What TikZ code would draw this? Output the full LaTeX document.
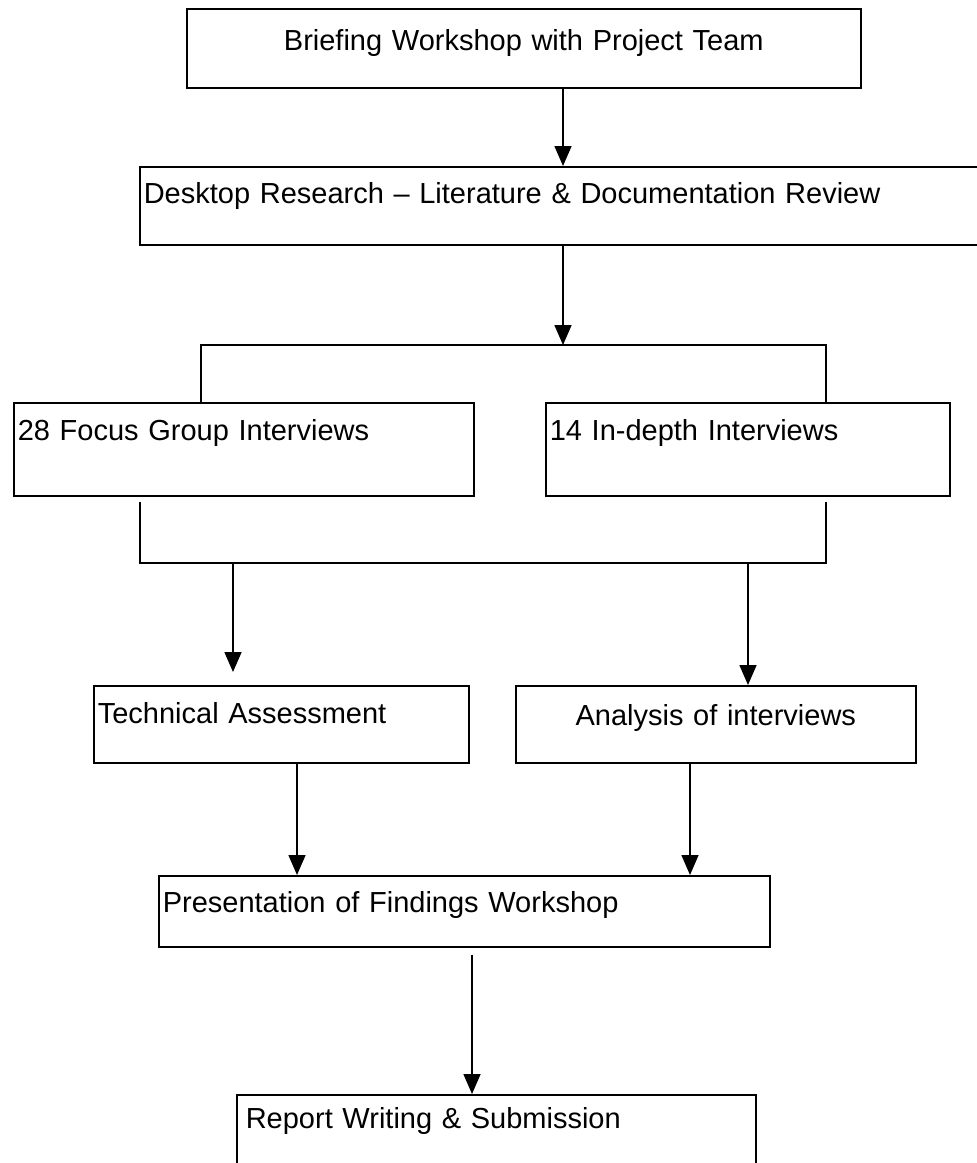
\documentclass[tikz,border=0pt]{standalone}
\usepackage{fontspec}
\setmainfont{Liberation Sans}
\usetikzlibrary{arrows.meta}

\begin{document}
\begin{tikzpicture}[
      x=1pt, y=-1pt,
      every node/.style={font=\fontsize{29}{34}\selectfont},
      box/.style={draw, line width=1.6pt, anchor=north west, align=left,
                  inner xsep=4pt, inner ysep=0pt, text height=38pt},
      link/.style={line width=1.6pt},
      arr/.style={-{Triangle[length=20pt, width=17pt]}, line width=1.6pt}
    ]
    \path[use as bounding box, fill=white] (0,0) rectangle (977,1163);
    \clip (0,0) rectangle (977,1163);

    % --- Boxes ---
    \node[box, align=center, text width=666pt, text height=42pt, text depth=37pt] (brief) at (186,8) {Briefing Workshop with Project Team};
    \node[box, text width=863pt, text height=37pt, text depth=41pt] (desk) at (139,166) {Desktop Research \textendash{} Literature \& Documentation Review};
    \node[box, text width=452pt, text depth=55pt] (focus) at (13,402) {28 Focus Group Interviews};
    \node[box, text width=396pt, text depth=55pt] (indepth) at (545,402) {14 In-depth Interviews};
    \node[box, text width=367pt, text depth=39pt] (tech) at (93,685) {Technical Assessment};
    \node[box, align=center, text width=392pt, text height=40pt, text depth=37pt] (analysis) at (515,685) {Analysis of interviews};
    \node[box, text width=603pt, text height=37pt, text depth=34pt] (pres) at (158,875) {Presentation of Findings Workshop};
    \node[box, text width=511pt, text height=34pt, text depth=90pt] (report) at (236,1094) {\hspace{5pt}Report Writing \& Submission};

    % --- Split and join points ---
    \coordinate (split) at (563,345);
    \coordinate (splitL) at (201,345);
    \coordinate (splitR) at (826,345);
    \coordinate (joinL) at (140,563);
    \coordinate (joinR) at (826,563);
    \coordinate (dropL) at (233,563);
    \coordinate (dropR) at (748,563);
    \coordinate (inL) at (297,800);
    \coordinate (inR) at (690,800);
    \coordinate (down) at (472,1000);

    % --- Connectors ---
    \draw[arr] (brief.south -| split) -- (desk.north -| split);
    \draw[arr] (desk.south -| split) -- (split);
    \draw[link] (focus.north -| splitL) -- (splitL) -- (splitR) -- (indepth.north -| splitR);
    \draw[link] ([yshift=-5pt]focus.south -| joinL) -- (joinL) -- (joinR) -- ([yshift=-5pt]indepth.south -| joinR);
    \draw[arr] (dropL) -- ([yshift=13pt]tech.north -| dropL);
    \draw[arr] (dropR) -- (analysis.north -| dropR);
    \draw[arr] (tech.south -| inL) -- (pres.north -| inL);
    \draw[arr] (analysis.south -| inR) -- (pres.north -| inR);
    \draw[arr] ([yshift=-7pt]pres.south -| down) -- (report.north -| down);
  \end{tikzpicture}
\end{document}
